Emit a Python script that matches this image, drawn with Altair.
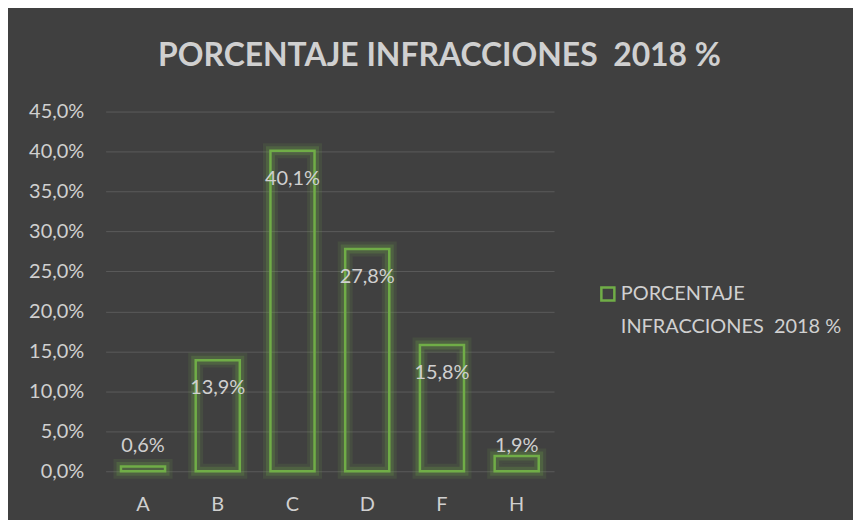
import altair as alt
import pandas as pd

categories = ["A", "B", "C", "D", "F", "H"]
values = [0.006, 0.139, 0.401, 0.278, 0.158, 0.019]
series_name = "PORCENTAJE INFRACCIONES\u00a0\u00a02018 %"
legend_lines = ["PORCENTAJE", "INFRACCIONES\u00a0\u00a02018 %"]

df = pd.DataFrame({"cat": categories, "val": values, "serie": [series_name] * len(categories)})

BG = "#404040"
GREEN = "#70ad47"
TXT = "#d0d0d0"
FONT = "Lato"

x = alt.X("cat:N", sort=categories, title=None,
          scale=alt.Scale(paddingInner=0.41, paddingOuter=0.205),
          axis=alt.Axis(labelAngle=0, labelFontSize=20, labelColor=TXT, labelFont=FONT,
                        ticks=False, domain=False, labelPadding=23, grid=False))
y = alt.Y("val:Q", title=None,
          scale=alt.Scale(domain=[0, 0.45], nice=False),
          axis=alt.Axis(values=[i * 0.05 for i in range(10)], labelFontSize=20, labelColor=TXT,
                        labelFont=FONT, ticks=False, domain=False, labelPadding=22,
                        gridColor="#5a5a5a", gridWidth=1,
                        labelExpr="replace(format(datum.value, '.1%'), '.', ',')"))

leg = alt.Legend(title=None, orient="none", legendX=494, legendY=173,
                 symbolType="square", symbolSize=170, symbolStrokeWidth=2.5,
                 symbolFillColor=BG, symbolStrokeColor=GREEN, symbolOffset=0,
                 labelFontSize=20, labelColor=TXT, labelFont=FONT, labelLimit=400,
                 labelOffset=3,
                 labelExpr="['" + legend_lines[0] + "', '" + legend_lines[1] + "']")
stroke = alt.Stroke("serie:N", scale=alt.Scale(range=[GREEN]), legend=leg)

base = alt.Chart(df)

glow_outer = base.mark_bar(filled=False, strokeWidth=15, strokeOpacity=0.12).encode(
    x=x, y=y, stroke=stroke)

glow = base.mark_bar(filled=False, strokeWidth=9, strokeOpacity=0.22).encode(
    x=x, y=y, stroke=stroke)

bars = base.mark_bar(filled=False, strokeWidth=2.5).encode(
    x=x, y=y, stroke=stroke)

labels = base.transform_calculate(
    pos="datum.val > 0.05 ? datum.val - 0.035 : 0.032",
    lab="replace(format(datum.val, '.1%'), '.', ',')"
).mark_text(fontSize=20, color=TXT, font=FONT, baseline="middle").encode(
    x=alt.X("cat:N", sort=categories),
    y=alt.Y("pos:Q"),
    text="lab:N")

chart = alt.layer(glow_outer, glow, bars, labels).properties(
    width=450, height=361,
    background=BG,
    padding={"left": 98, "top": 103, "right": 300, "bottom": 48},
    autosize=alt.AutoSizeParams(type="none"),
    title=alt.TitleParams(series_name, fontSize=32, font=FONT, fontWeight="bold", color=TXT,
                          anchor="middle", dx=110, offset=29)
).configure(style={"guide-label": {"lineHeight": 33}}).configure_view(stroke=None)

chart.save("out.html", embed_options={"renderer": "svg", "actions": False})
